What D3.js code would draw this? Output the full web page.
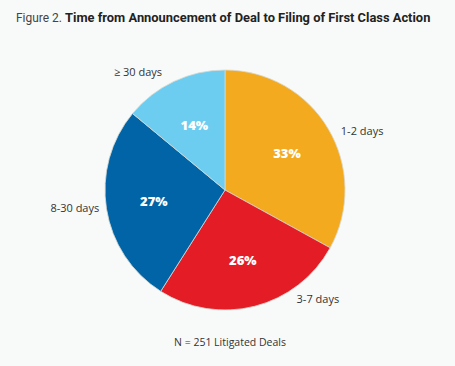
<!DOCTYPE html>
<html><head><meta charset="utf-8">
<script src="https://cdn.jsdelivr.net/npm/d3@7"></script>
<style>
html,body{margin:0;padding:0;background:#f7faf9;}
svg{display:block;font-family:"Open Sans",sans-serif;}
</style></head>
<body>
<svg id="chart" width="455" height="366"></svg>
<script>
const categories = ["1-2 days", "3-7 days", "8-30 days", "\u2265 30 days"];
const shares = [33, 26, 27, 14];
const valueLabels = ["33%", "26%", "27%", "14%"];
const colors = ["#f4aa1e", "#e31c25", "#0064a6", "#6ccdf0"];
const titlePrefix = "Figure 2.";
const titleMain = "Time from Announcement of Deal to Filing of First Class Action";
const note = "N = 251 Litigated Deals";

const W = 455, H = 366;
const cx = 225, cy = 190, R = 120;
// outer label layout: angle (deg, clockwise from top), radius, anchor
const outerLayout = [
  {ang: 63, r: 130, anchor: "start"},
  {ang: 146.6, r: 130, anchor: "start"},
  {ang: 262, r: 127, anchor: "end"},
  {ang: 332, r: 134, anchor: "end"}
];

const svg = d3.select("#chart");
svg.append("rect").attr("width", W).attr("height", H).attr("fill", "#f7faf9");

function fitText(sel, maxW, size) {
  sel.attr("font-size", size);
  let w = sel.node().getComputedTextLength();
  if (w > maxW) sel.attr("font-size", size * maxW / w);
  return sel;
}
fitText(svg.append("text").attr("x", 16).attr("y", 22)
  .attr("font-family", "Roboto, sans-serif")
  .attr("fill", "#444").attr("font-weight", 400)
  .text(titlePrefix), 46, 13);
fitText(svg.append("text").attr("x", 65).attr("y", 22)
  .attr("font-family", "Roboto, sans-serif")
  .attr("fill", "#222").attr("font-weight", 700)
  .text(titleMain), 366, 13);

const data = categories.map((c, i) => ({cat: c, v: shares[i], lab: valueLabels[i], col: colors[i]}));
const pie = d3.pie().value(d => d.v).sort(null);
const arcs = pie(data);
const arc = d3.arc().innerRadius(0).outerRadius(R);
const labelArc = d3.arc().innerRadius(72).outerRadius(72);

const g = svg.append("g").attr("transform", `translate(${cx},${cy})`);
g.selectAll("path").data(arcs).join("path")
  .attr("d", arc).attr("fill", d => d.data.col)
  .attr("stroke", "#d8d8d0").attr("stroke-width", 0.8);

g.selectAll("text.pct").data(arcs).join("text").attr("class", "pct")
  .attr("transform", d => `translate(${labelArc.centroid(d)})`)
  .attr("text-anchor", "middle").attr("dominant-baseline", "central")
  .attr("font-size", 13).attr("font-weight", 800).attr("fill", "#fff")
  .text(d => d.data.lab);

g.selectAll("text.cat").data(arcs).join("text").attr("class", "cat")
  .attr("x", (d, i) => outerLayout[i].r * Math.sin(outerLayout[i].ang * Math.PI / 180))
  .attr("y", (d, i) => -outerLayout[i].r * Math.cos(outerLayout[i].ang * Math.PI / 180))
  .attr("text-anchor", (d, i) => outerLayout[i].anchor)
  .attr("dominant-baseline", "central")
  .attr("font-size", 11).attr("fill", "#333")
  .text(d => d.data.cat);

svg.append("text").attr("x", 230).attr("y", 346).attr("text-anchor", "middle")
  .attr("font-size", 10.5).attr("fill", "#333").text(note);
</script>
</body></html>
